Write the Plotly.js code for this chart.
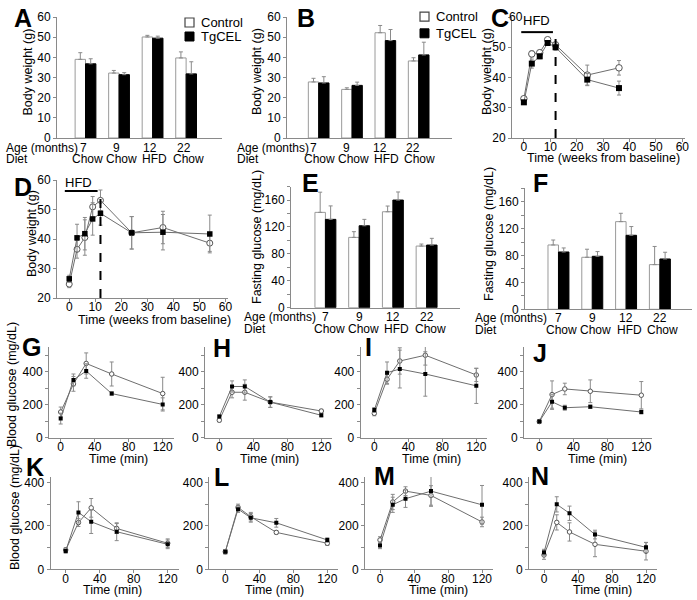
<!DOCTYPE html>
<html><head><meta charset="utf-8">
<script src="https://cdn.plot.ly/plotly-3.0.1.min.js"></script>
<style>html,body{margin:0;padding:0;background:#fff}#chart{width:697px;height:600px}</style>
</head><body><div id="chart"></div>
<script>
// ---------------- DATA ----------------
const ages = ['7', '9', '12', '22'];
const diets = ['Chow', 'Chow', 'HFD', 'Chow'];

const aControl = [39.0, 32.2, 50.1, 39.7];
const aControlErr = [3.3, 1.3, 0.8, 3.0];
const aTgCEL = [36.8, 31.4, 49.5, 31.8];
const aTgCELErr = [2.5, 1.0, 1.0, 6.0];

const bControl = [27.8, 24.1, 52.2, 38.2];
const bControlErr = [1.8, 0.8, 3.6, 1.6];
const bTgCEL = [27.3, 26.1, 48.3, 41.2];
const bTgCELErr = [3.1, 1.6, 5.5, 6.3];

const cWeeks = [0, 3, 6, 9, 12, 24, 36];
const cControl = [33.0, 47.8, 48.2, 52.5, 50.8, 40.8, 43.2];
const cControlErr = [0.5, 1.0, 0.8, 0.6, 0.8, 3.3, 2.4];
const cTgCEL = [31.8, 44.6, 47.0, 51.4, 50.0, 39.3, 36.5];
const cTgCELErr = [0.6, 1.5, 0.8, 0.6, 1.0, 2.0, 2.3];

const dWeeks = [0, 3, 6, 9, 12, 24, 36, 54];
const dControl = [24.7, 36.5, 40.5, 50.9, 53.1, 42.1, 43.9, 38.6];
const dControlErr = [1.2, 3.0, 6.0, 3.5, 3.5, 5.5, 5.5, 2.8];
const dTgCEL = [26.5, 40.4, 41.8, 46.8, 48.7, 42.1, 42.3, 41.7];
const dTgCELErr = [1.2, 4.6, 5.5, 5.5, 4.0, 5.5, 6.0, 6.4];

const eControl = [141.7, 104.5, 142.6, 91.6];
const eControlErr = [30, 8.5, 8.5, 3];
const eTgCEL = [131.3, 121.8, 160.0, 93.1];
const eTgCELErr = [20, 9.5, 12, 10];

const fControl = [95.6, 77.3, 130.3, 66.4];
const fControlErr = [7.4, 12, 12.4, 27];
const fTgCEL = [85.2, 78.8, 110.0, 74.8];
const fTgCELErr = [6, 7, 13, 10];

const gttMinutes = [0, 15, 30, 60, 120];

const gControl = [155, 326, 450, 386, 267];
const gControlErr = [30, 45, 64, 73, 99];
const gTgCEL = [115, 350, 404, 267, 201];
const gTgCELErr = [33, 36, 44, 10, 40];

const hControl = [105, 275, 275, 215, 161];
const hControlErr = [10, 34, 48, 32, 10];
const hTgCEL = [127, 310, 310, 215, 135];
const hTgCELErr = [10, 34, 40, 32, 10];

const iControl = [147, 354, 465, 500, 380];
const iControlErr = [15, 30, 80, 60, 40];
const iTgCEL = [167, 394, 416, 386, 314];
const iTgCELErr = [15, 65, 115, 135, 107];

const jControl = [97, 261, 295, 281, 257];
const jControlErr = [8, 83, 35, 69, 83];
const jTgCEL = [97, 217, 181, 187, 155];
const jTgCELErr = [8, 46, 15, 10, 12];

const kControl = [89, 215, 283, 188, 120];
const kControlErr = [10, 18, 43, 23, 20];
const kTgCEL = [84, 262, 219, 173, 115];
const kTgCELErr = [10, 49, 54, 41, 20];

const lControl = [81, 285, 242, 170, 120];
const lControlErr = [10, 15, 20, 8, 10];
const lTgCEL = [81, 277, 237, 214, 135];
const lTgCELErr = [10, 15, 20, 20, 10];

const mControl = [135, 310, 360, 340, 218];
const mControlErr = [15, 35, 20, 45, 22];
const mTgCEL = [110, 297, 325, 360, 297];
const mTgCELErr = [15, 35, 40, 70, 89];

const nControl = [66, 216, 172, 115, 83];
const nControlErr = [20, 35, 42, 57, 40];
const nTgCEL = [77, 299, 258, 160, 101];
const nTgCELErr = [15, 35, 33, 20, 23];

// ---------------- LAYOUT HELPERS ----------------
const W = 697, H = 600;
const fx = x => x / W, fy = y => 1 - y / H;
const AX = '#8a8a8a';
const FONT = 'Liberation Sans, Arial, sans-serif';

const layout = {
  width: W, height: H, margin: {l: 0, r: 0, t: 0, b: 0},
  paper_bgcolor: '#fff', plot_bgcolor: 'rgba(0,0,0,0)',
  showlegend: false,
  font: {family: FONT, size: 12, color: '#000'},
  barmode: 'group', bargap: 0.38, bargroupgap: 0,
  annotations: [], shapes: []
};
const traces = [];
const baseAxis = () => ({
  showline: true, linecolor: AX, linewidth: 1, ticks: 'outside', ticklen: 3, tickwidth: 1,
  tickcolor: AX, showgrid: false, zeroline: false, automargin: false, fixedrange: true,
  tickfont: {size: 12, color: '#000'}
});
let nAx = 0;
function makeAxes(x0, x1, yTop, yBot, xo, yo) {
  nAx++;
  const k = nAx === 1 ? '' : String(nAx);
  layout['xaxis' + k] = Object.assign(baseAxis(), {domain: [fx(x0), fx(x1)], anchor: 'y' + k}, xo);
  layout['yaxis' + k] = Object.assign(baseAxis(), {domain: [fy(yBot), fy(yTop)], anchor: 'x' + k}, yo);
  return {xa: 'x' + k, ya: 'y' + k};
}
function letter(t, cx, cy) {
  layout.annotations.push({text: '<b>' + t + '</b>', xref: 'paper', yref: 'paper', x: fx(cx), y: fy(cy),
    xanchor: 'center', yanchor: 'middle', showarrow: false, font: {size: 25, family: FONT, color: '#000'}});
}
function txt(t, x, y, xanchor, size, angle) {
  layout.annotations.push({text: t, xref: 'paper', yref: 'paper', x: fx(x), y: fy(y),
    xanchor: xanchor || 'left', yanchor: 'middle', showarrow: false, textangle: angle || 0,
    font: {size: size || 12, family: FONT}});
}
const yTitle = (t, cx, cy) => txt(t, cx, cy, 'center', 12.5, -90);
const xTitle = (t, cx, cy) => txt(t, cx, cy, 'center', 12.5, 0);

function barPanel(p) {
  const a = makeAxes(p.x0, p.x1, p.yTop, p.yBot,
    {type: 'category', range: p.xr, showticklabels: false, ticks: ''},
    Object.assign({range: p.yr}, p.yo));
  const errBar = e => ({type: 'data', array: e, arrayminus: e.map(() => 0), symmetric: false,
    color: '#8a8a8a', thickness: 1, width: 2});
  traces.push({type: 'bar', x: ages, y: p.ctrl, error_y: errBar(p.ctrlErr), xaxis: a.xa, yaxis: a.ya,
    marker: {color: '#fff', line: {color: '#9a9a9a', width: 1}}, name: 'Control'});
  traces.push({type: 'bar', x: ages, y: p.tg, error_y: errBar(p.tgErr), xaxis: a.xa, yaxis: a.ya,
    marker: {color: '#000', line: {color: '#000', width: 1}}, name: 'TgCEL'});
  ages.forEach((ag, i) => {
    layout.annotations.push({text: ag, xref: a.xa, yref: 'paper', x: i, y: fy(p.rowAge), xshift: p.ageShift,
      xanchor: 'center', yanchor: 'middle', showarrow: false, font: {size: 12}});
    layout.annotations.push({text: diets[i], xref: a.xa, yref: 'paper', x: i, y: fy(p.rowDiet), xshift: p.dietShift,
      xanchor: 'center', yanchor: 'middle', showarrow: false, font: {size: 12}});
  });
  txt('Age (months)', p.labX, p.rowAge, 'left', 12);
  txt('Diet', p.labX, p.rowDiet, 'left', 12);
  yTitle(p.ytitle, p.tx, p.ty);
  return a;
}

function linePanel(p) {
  const a = makeAxes(p.x0, p.x1, p.yTop, p.yBot,
    Object.assign({range: p.xr, ticklabelstandoff: -5}, p.xo), Object.assign({range: p.yr}, p.yo));
  const eb = e => ({type: 'data', array: e, visible: true, color: '#8a8a8a', thickness: 1, width: 2});
  traces.push({type: 'scatter', mode: 'lines+markers', x: p.x, y: p.ctrl, error_y: eb(p.ctrlErr),
    xaxis: a.xa, yaxis: a.ya, line: {color: '#6e6e6e', width: 1},
    marker: {symbol: 'circle', size: p.ms || 5, color: '#fff', line: {color: '#555', width: 1}}, name: 'Control'});
  traces.push({type: 'scatter', mode: 'lines+markers', x: p.x, y: p.tg, error_y: eb(p.tgErr),
    xaxis: a.xa, yaxis: a.ya, line: {color: '#6e6e6e', width: 1},
    marker: {symbol: 'square', size: (p.ms || 5) - 0.5, color: '#000'}, name: 'TgCEL'});
  if (p.xtitle) xTitle(p.xtitle, p.xtx, p.xty);
  if (p.ytitle) yTitle(p.ytitle, p.ytx, p.yty);
  return a;
}

// ---------------- PANELS ----------------
barPanel({x0: 57, x1: 222, yTop: 17, yBot: 138, xr: [-0.85, 4.07], yr: [0, 60],
  yo: {tickvals: [0, 10, 20, 30, 40, 50, 60]}, ytitle: 'Body weight (g)', tx: 27.5, ty: 72,
  ctrl: aControl, ctrlErr: aControlErr, tg: aTgCEL, tgErr: aTgCELErr,
  rowAge: 147.5, rowDiet: 159, ageShift: -2.5, dietShift: 2, labX: 4});
barPanel({x0: 287, x1: 452, yTop: 17, yBot: 138, xr: [-0.95, 4.0], yr: [0, 60],
  yo: {tickvals: [0, 10, 20, 30, 40, 50, 60]}, ytitle: 'Body weight (g)', tx: 257, ty: 72,
  ctrl: bControl, ctrlErr: bControlErr, tg: bTgCEL, tgErr: bTgCELErr,
  rowAge: 147.5, rowDiet: 159, ageShift: -5.5, dietShift: 1, labX: 235});
const ac = linePanel({x0: 512, x1: 685, yTop: 17, yBot: 138, xr: [-4.5, 61], yr: [20, 60],
  xo: {tickvals: [0, 10, 20, 30, 40, 50, 60]},
  yo: {tickvals: [20, 30, 40, 50, 60], ticktext: ['20', '30', '40', '50', '']},
  xtitle: 'Time (weeks from baseline)', xtx: 603, xty: 158,
  ytitle: 'Body weight (g)', ytx: 487, yty: 72, ms: 6.5,
  x: cWeeks, ctrl: cControl, ctrlErr: cControlErr, tg: cTgCEL, tgErr: cTgCELErr});
txt('60', 516, 17, 'center', 12);
const ad = linePanel({x0: 57, x1: 228, yTop: 180, yBot: 298, xr: [-4.7, 61], yr: [20, 60],
  xo: {tickvals: [0, 10, 20, 30, 40, 50, 60]}, yo: {tickvals: [20, 30, 40, 50, 60]},
  xtitle: 'Time (weeks from baseline)', xtx: 154, xty: 320,
  ytitle: 'Body weight (g)', ytx: 32, yty: 234, ms: 6,
  x: dWeeks, ctrl: dControl, ctrlErr: dControlErr, tg: dTgCEL, tgErr: dTgCELErr});
const glucTicks = {tickvals: [0, 20, 40, 60, 80, 100, 120, 140, 160, 180],
  ticktext: ['0', '', '40', '', '80', '', '120', '', '160', '']};
barPanel({x0: 291, x1: 460, yTop: 186.6, yBot: 307.7, xr: [-1.02, 3.99], yr: [0, 180],
  yo: glucTicks, ytitle: 'Fasting glucose (mg/dL)', tx: 257, ty: 237,
  ctrl: eControl, ctrlErr: eControlErr, tg: eTgCEL, tgErr: eTgCELErr,
  rowAge: 316.5, rowDiet: 328.5, ageShift: 0, dietShift: 4, labX: 242});
barPanel({x0: 525, x1: 692, yTop: 188.2, yBot: 309.3, xr: [-0.99, 3.95], yr: [0, 180],
  yo: glucTicks, ytitle: 'Fasting glucose (mg/dL)', tx: 489, ty: 234,
  ctrl: fControl, ctrlErr: fControlErr, tg: fTgCEL, tgErr: fTgCELErr,
  rowAge: 317.5, rowDiet: 330, ageShift: 0, dietShift: 3, labX: 473});

// GTT rows
const S = 0.85; // px per minute
const gttX = {tickvals: [0, 40, 80, 120]};
const row1 = {yTop: 347, yBot: 437.5, yr: [0, 550], xty: 459, yty: 385,
  yo: {tickvals: [0, 100, 200, 300, 400, 500], ticktext: ['0', '', '200', '', '400', '']}};
const row2 = {yTop: 477, yBot: 569.3, yr: [0, 425], xty: 590, yty: 508,
  yo: {tickvals: [0, 100, 200, 300, 400], ticktext: ['0', '', '200', '', '400']}};
const gttPanels = [
  [row1, 49, 60.7, 118, gControl, gControlErr, gTgCEL, gTgCELErr, 12],
  [row1, 205, 219.3, 269, hControl, hControlErr, hTgCEL, hTgCELErr, 0],
  [row1, 360.7, 374.3, 431, iControl, iControlErr, iTgCEL, iTgCELErr, 0],
  [row1, 524, 539.3, 597, jControl, jControlErr, jTgCEL, jTgCELErr, 0],
  [row2, 50.7, 65.7, 113, kControl, kControlErr, kTgCEL, kTgCELErr, 15],
  [row2, 209.3, 225.3, 274, lControl, lControlErr, lTgCEL, lTgCELErr, 0],
  [row2, 365, 380, 438, mControl, mControlErr, mTgCEL, mTgCELErr, 0],
  [row2, 529, 544, 602, nControl, nControlErr, nTgCEL, nTgCELErr, 0]
];
gttPanels.forEach(g => {
  const [row, axX, zeroX, titleX, c, ce, t, te, ytx] = g;
  linePanel({x0: axX, x1: zeroX + 133 * S, yTop: row.yTop, yBot: row.yBot,
    xr: [-(zeroX - axX) / S, 133], yr: row.yr, xo: gttX, yo: row.yo,
    xtitle: 'Time (min)', xtx: titleX, xty: row.xty,
    ytitle: ytx ? 'Blood glucose (mg/dL)' : '', ytx: ytx, yty: row.yty, ms: 4.5,
    x: gttMinutes, ctrl: c, ctrlErr: ce, tg: t, tgErr: te});
});

// HFD markers & dashed lines (C, D)
[[ac, -1, 11, 55, 4.7, 58.8, 53.7], [ad, -1.7, 10.9, 56.3, 3.6, 59.2, 55.5]].forEach(h => {
  const [a, x0, x1, yl, xt, yt, yd] = h;
  layout.shapes.push({type: 'line', xref: a.xa, yref: a.ya, x0: x0, x1: x1, y0: yl, y1: yl,
    line: {color: '#000', width: 2}});
  layout.shapes.push({type: 'line', xref: a.xa, yref: a.ya, x0: 12, x1: 12, y0: 20, y1: yd,
    line: {color: '#000', width: 2, dash: 'dash'}});
  layout.annotations.push({text: 'HFD', xref: a.xa, yref: a.ya, x: xt, y: yt, showarrow: false,
    xanchor: 'center', yanchor: 'middle', font: {size: 13}});
});

// Legends (A, B)
[[185, 22.5, 36.5], [420, 16.7, 33.3]].forEach(l => {
  const [x, y1, y2] = l;
  layout.shapes.push({type: 'rect', xref: 'paper', yref: 'paper', x0: fx(x), x1: fx(x + 9),
    y0: fy(y1 + 4.5), y1: fy(y1 - 4.5), fillcolor: '#fff', line: {color: '#444', width: 1.2}});
  layout.shapes.push({type: 'rect', xref: 'paper', yref: 'paper', x0: fx(x), x1: fx(x + 9),
    y0: fy(y2 + 4.5), y1: fy(y2 - 4.5), fillcolor: '#000', line: {color: '#000', width: 1}});
  txt('Control', x + 14, y1, 'left', 13);
  txt('TgCEL', x + 14, y2, 'left', 13);
});

// Panel letters
letter('A', 23, 18); letter('B', 306, 18); letter('C', 500, 18);
letter('D', 23, 187); letter('E', 310, 183); letter('F', 540, 183);
letter('G', 31, 347); letter('H', 222, 348); letter('I', 368, 347); letter('J', 540, 353);
letter('K', 35, 467); letter('L', 222, 477); letter('M', 384, 476); letter('N', 540, 476);

Plotly.newPlot('chart', traces, layout, {staticPlot: true, displayModeBar: false});
</script>
</body></html>
